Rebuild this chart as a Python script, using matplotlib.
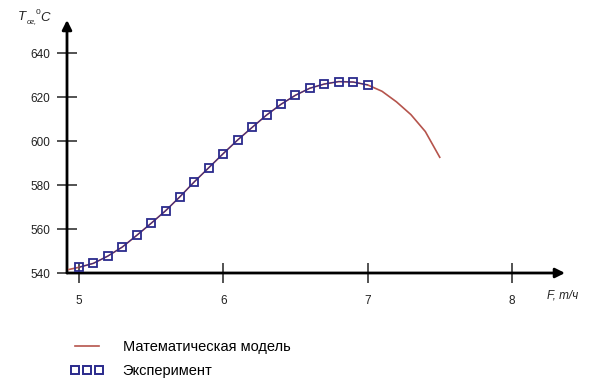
import numpy as np
import matplotlib
matplotlib.use('Agg')
import matplotlib.pyplot as plt
from matplotlib.lines import Line2D

plt.rcParams['font.family'] = ['Liberation Sans', 'DejaVu Sans']

# Экспериментальные точки: расход F (т/ч) и температура T_ог (°C)
f_exp = [5.0, 5.1, 5.2, 5.3, 5.4, 5.5, 5.6, 5.7, 5.8, 5.9, 6.0,
         6.1, 6.2, 6.3, 6.4, 6.5, 6.6, 6.7, 6.8, 6.9, 7.0]
t_exp = [542.6, 544.4, 547.7, 551.8, 557.1, 562.6, 568.3, 574.7, 581.5, 587.9, 594.3,
         600.5, 606.2, 611.8, 616.7, 620.8, 624.0, 625.9, 627.0, 626.8, 625.5]

# Математическая модель
f_model = [4.93, 5.0, 5.1, 5.2, 5.3, 5.4, 5.5, 5.6, 5.7, 5.8, 5.9, 6.0,
           6.1, 6.2, 6.3, 6.4, 6.5, 6.6, 6.7, 6.8, 6.9, 7.0,
           7.1, 7.2, 7.3, 7.4, 7.5]
t_model = [541.6, 542.6, 544.4, 547.7, 551.8, 557.1, 562.6, 568.3, 574.7, 581.5, 587.9, 594.3,
           600.5, 606.2, 611.8, 616.7, 620.8, 624.0, 625.9, 627.0, 626.8, 625.5,
           622.6, 617.8, 612.0, 604.3, 592.6]

x_ticks = [5, 6, 7, 8]
y_ticks = [540, 560, 580, 600, 620, 640]

W, H = 605, 381
fig = plt.figure(figsize=(W / 100, H / 100), dpi=100)

# оси: начало в (67, 273) px, стрелки до x=565 и y=20
x0_px, y0_px, x1_px, y1_px = 67, 273, 565, 20
ax = fig.add_axes([x0_px / W, 1 - y0_px / H, (x1_px - x0_px) / W, (y0_px - y1_px) / H])
px_per_f = 144.3
px_per_t = 2.2
ax.set_xlim(5 - (79 - x0_px) / px_per_f, 5 + (x1_px - 79) / px_per_f)
ax.set_ylim(540, 540 + (y0_px - y1_px) / px_per_t)

for s in ax.spines.values():
    s.set_visible(False)

# стрелки осей
arrow = dict(arrowstyle='-|>', color='black', lw=2.0, mutation_scale=14,
             shrinkA=0, shrinkB=0)
ax.annotate('', xy=(1, 0), xytext=(0, 0), xycoords='axes fraction', arrowprops=arrow,
            annotation_clip=False)
ax.annotate('', xy=(0, 1), xytext=(0, 0), xycoords='axes fraction', arrowprops=arrow,
            annotation_clip=False)

ax.set_xticks(x_ticks)
ax.set_yticks(y_ticks)
ax.tick_params(direction='inout', length=14, width=1.3, color='#444444',
               labelsize=8.5, labelcolor='#222222')
ax.tick_params(axis='x', pad=9)
ax.tick_params(axis='y', pad=5)

model_color = '#b5544c'
exp_color = '#2a2a8c'
ax.plot(f_model, t_model, color=model_color, lw=1.2, zorder=3, clip_on=False)
ax.plot(f_exp, t_exp, color=exp_color, lw=0.7, ls='-', marker='s', ms=6.3,
        mfc='none', mec=exp_color, mew=1.3, zorder=4, clip_on=False)

# подписи осей
fig.text(18 / W, 1 - 20 / H, 'T', fontsize=9.5, style='italic', color='#222222', va='baseline')
fig.text(27 / W, 1 - 23 / H, 'ог,', fontsize=5.5, style='italic', color='#222222', va='baseline')
fig.text(36 / W, 1 - 14 / H, '0', fontsize=6, color='#222222', va='baseline')
fig.text(40 / W, 1 - 21 / H, 'C', fontsize=9.5, style='italic', color='#222222', va='baseline')
fig.text(547 / W, 1 - 298 / H, 'F, т/ч', fontsize=8.5, style='italic', color='#222222',
         va='baseline')

handles = [
    Line2D([], [], color=model_color, lw=1.2),
    Line2D([], [], ls='none', marker='s', ms=5.5, mfc='none', mec=exp_color, mew=1.4),
]
labels = ['Математическая модель', 'Эксперимент']
ax.legend(handles, labels, loc='upper left', bbox_to_anchor=(57 / W, 1 - 327 / H),
          bbox_transform=fig.transFigure, frameon=False, fontsize=10.5,
          handlelength=2.3, handletextpad=1.3, labelspacing=0.65, numpoints=3)

fig.savefig('out.png', dpi=100)
